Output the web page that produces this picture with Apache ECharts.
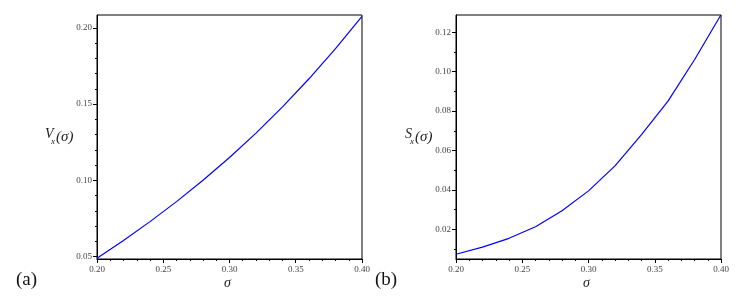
<!DOCTYPE html>
<html>
<head>
<meta charset="utf-8">
<script src="https://cdn.jsdelivr.net/npm/echarts@6/dist/echarts.min.js"></script>
<style>html,body{margin:0;padding:0;background:#fff}#c{width:748px;height:300px}</style>
</head>
<body>
<div id="c"></div>
<script>
// ---- data ----
var sigma = [0.20, 0.22, 0.24, 0.26, 0.28, 0.30, 0.32, 0.34, 0.36, 0.38, 0.40];
var vx = [0.0490, 0.0606, 0.0730, 0.0861, 0.1001, 0.1150, 0.1310, 0.1482, 0.1666, 0.1863, 0.2075];
var sx = [0.0073, 0.0109, 0.0154, 0.0213, 0.0294, 0.0395, 0.0522, 0.0681, 0.0851, 0.1061, 0.1289];
var xTicks = [0.20, 0.25, 0.30, 0.35, 0.40];
var xMinor = [0.21, 0.22, 0.23, 0.24, 0.26, 0.27, 0.28, 0.29, 0.31, 0.32, 0.33, 0.34, 0.36, 0.37, 0.38, 0.39];
var vTicks = [0.05, 0.10, 0.15, 0.20];
var vMinor = [0.06, 0.07, 0.08, 0.09, 0.11, 0.12, 0.13, 0.14, 0.16, 0.17, 0.18, 0.19];
var sTicks = [0.02, 0.04, 0.06, 0.08, 0.10, 0.12];
var sMinor = [0.01, 0.03, 0.05, 0.07, 0.09, 0.11];

var FONT = "'Liberation Serif', 'DejaVu Serif', serif";
var chart = echarts.init(document.getElementById('c'), null, {renderer: 'canvas'});

function pairs(xs, ys) { return xs.map(function (x, i) { return [x, ys[i]]; }); }

function xAx(gi, vals, major) {
  return {
    type: 'value', gridIndex: gi, min: 0.2, max: 0.4, position: 'bottom',
    splitLine: {show: false},
    axisLine: {show: major, lineStyle: {color: '#000', width: 1}},
    axisTick: {show: true, customValues: vals, length: major ? 4 : 2, inside: false, lineStyle: {color: '#000'}},
    axisLabel: major ? {show: true, customValues: vals, margin: 6, fontFamily: 'Liberation Serif', fontSize: 9, color: '#444',
      formatter: function (v) { return v.toFixed(2); }} : {show: false}
  };
}
function yAx(gi, mn, mx, vals, major) {
  return {
    type: 'value', gridIndex: gi, min: mn, max: mx, position: 'left',
    splitLine: {show: false},
    axisLine: {show: major, lineStyle: {color: '#000', width: 1}},
    axisTick: {show: true, customValues: vals, length: major ? 4 : 2, inside: false, lineStyle: {color: '#000'}},
    axisLabel: major ? {show: true, customValues: vals, margin: 5, fontFamily: 'Liberation Serif', fontSize: 9, color: '#444',
      formatter: function (v) { return v.toFixed(2); }} : {show: false}
  };
}

var option = {
  animation: false,
  backgroundColor: '#fff',
  grid: [
    {left: 97, top: 15, width: 265, height: 244, show: true, borderColor: '#000', borderWidth: 1},
    {left: 456, top: 15, width: 265, height: 244, show: true, borderColor: '#000', borderWidth: 1}
  ],
  xAxis: [
    xAx(0, xTicks, true), xAx(0, xMinor, false),
    xAx(1, xTicks, true), xAx(1, xMinor, false)
  ],
  yAxis: [
    yAx(0, 0.0485, 0.2084, vTicks, true), yAx(0, 0.0485, 0.2084, vMinor, false),
    yAx(1, 0.0049, 0.1288, sTicks, true), yAx(1, 0.0049, 0.1288, sMinor, false)
  ],
  series: [
    {type: 'line', xAxisIndex: 0, yAxisIndex: 0, data: pairs(sigma, vx), showSymbol: false, smooth: false,
      lineStyle: {color: '#0000ff', width: 1.2}},
    {type: 'line', xAxisIndex: 2, yAxisIndex: 2, data: pairs(sigma, sx), showSymbol: false, smooth: false,
      lineStyle: {color: '#0000ff', width: 1.2}}
  ],
  graphic: [
    {type: 'text', left: 45, top: 127, style: {text: 'V', font: 'italic 14px ' + FONT, fill: '#222'}},
    {type: 'text', left: 51, top: 137, style: {text: 'x', font: 'italic 9px ' + FONT, fill: '#222'}},
    {type: 'text', left: 56, top: 130, style: {text: '(σ)', font: 'italic 15px ' + FONT, fill: '#222'}},
    {type: 'text', left: 405, top: 127, style: {text: 'S', font: 'italic 14px ' + FONT, fill: '#222'}},
    {type: 'text', left: 410, top: 137, style: {text: 'x', font: 'italic 9px ' + FONT, fill: '#222'}},
    {type: 'text', left: 415, top: 130, style: {text: '(σ)', font: 'italic 15px ' + FONT, fill: '#222'}},
    {type: 'text', left: 224, top: 276, style: {text: 'σ', font: 'italic 14px ' + FONT, fill: '#222'}},
    {type: 'text', left: 583, top: 276, style: {text: 'σ', font: 'italic 14px ' + FONT, fill: '#222'}},
    {type: 'text', left: 16, top: 271, style: {text: '(a)', font: '19px ' + FONT, fill: '#111'}},
    {type: 'text', left: 375, top: 271, style: {text: '(b)', font: '19px ' + FONT, fill: '#111'}}
  ]
};
chart.setOption(option);
</script>
</body>
</html>
